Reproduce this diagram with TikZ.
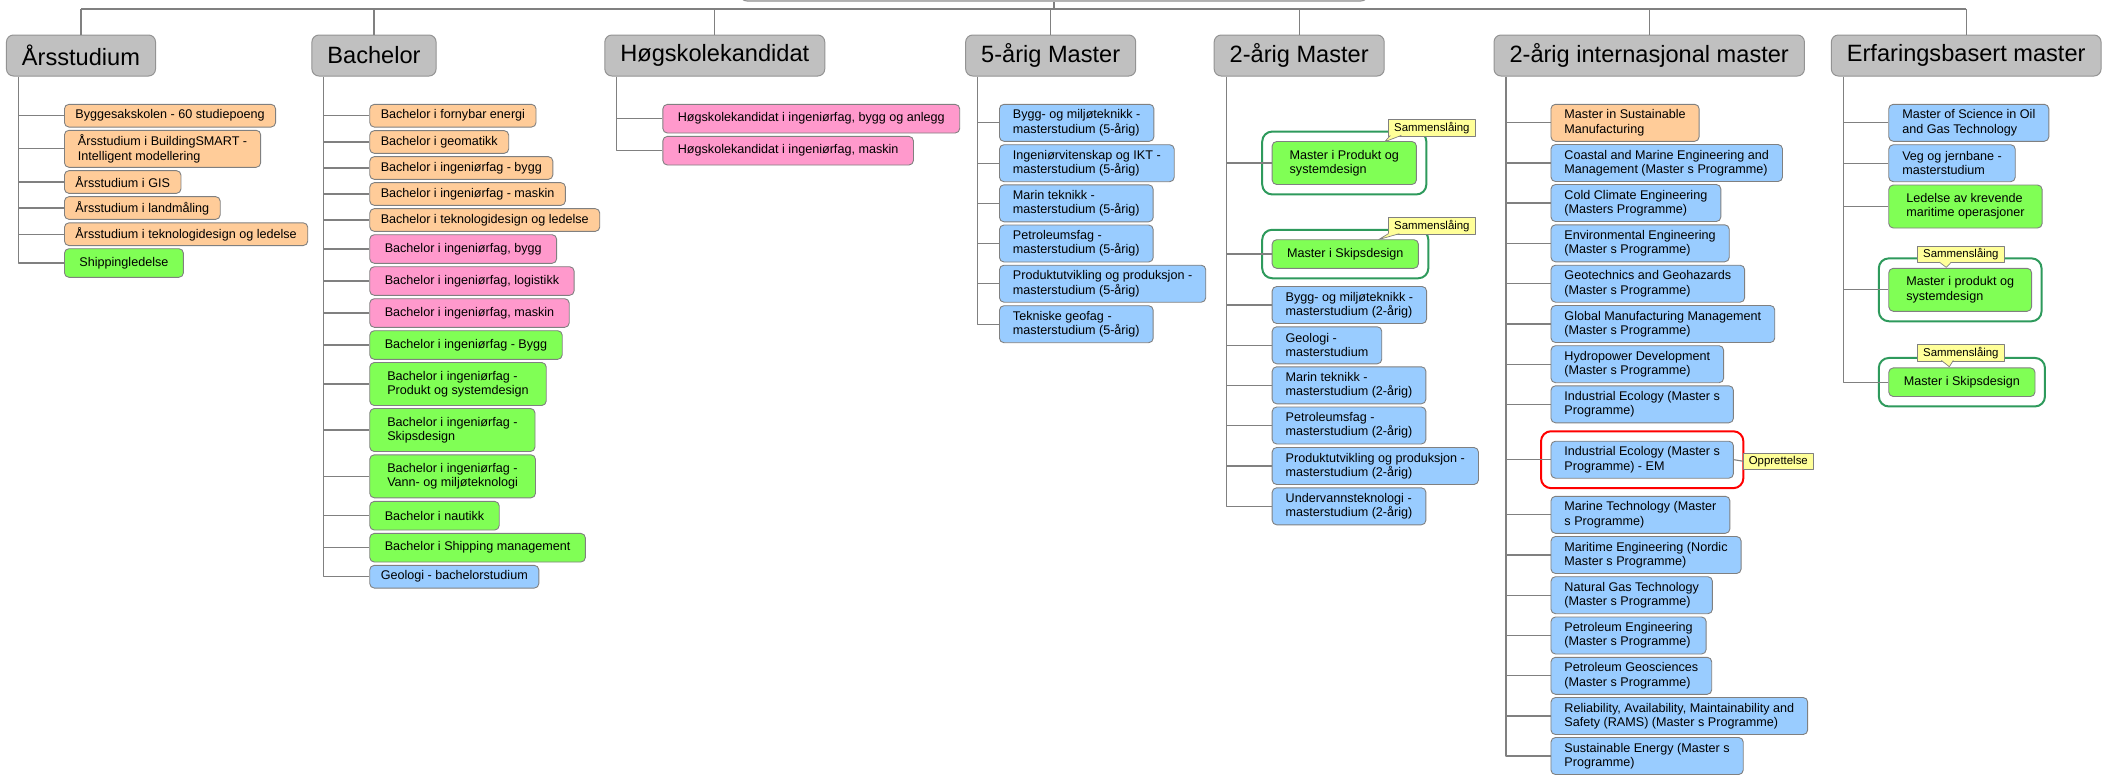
\documentclass[tikz,border=0pt]{standalone}
\usepackage{fontspec}
\setmainfont{Liberation Sans}
\usetikzlibrary{fit}
\definecolor{hdrgray}{RGB}{192,192,192}
\definecolor{edgegray}{RGB}{128,128,128}
\definecolor{progorange}{RGB}{255,204,153}
\definecolor{progblue}{RGB}{153,204,255}
\definecolor{progpink}{RGB}{255,153,204}
\definecolor{proggreen}{RGB}{128,255,85}
\definecolor{ringgreen}{RGB}{46,154,92}
\definecolor{noteyellow}{RGB}{255,255,153}
\tikzset{
  hdr/.style={draw=edgegray!85, fill=hdrgray, rounded corners=7pt, line width=1pt, minimum height=41pt, inner xsep=15.5pt, font=\fontsize{23.6}{28}\selectfont},
  prog/.style={draw=edgegray, rounded corners=4.5pt, line width=0.9pt, anchor=west, align=left, inner xsep=11pt, inner ysep=1pt, minimum height=22.7pt, font=\fontsize{12.6}{14.3}\selectfont},
  orbox/.style={prog, fill=progorange},
  blbox/.style={prog, fill=progblue},
  pkbox/.style={prog, fill=progpink, inner xsep=15pt, minimum height=28.6pt},
  grbox/.style={prog, fill=proggreen, inner xsep=15pt, minimum height=28.6pt},
  twoline/.style={inner xsep=13.5pt, minimum height=37pt},
  grtwo/.style={grbox, inner xsep=17.5pt, minimum height=43pt},
  conn/.style={draw=edgegray, line width=1.1pt},
  mergering/.style={draw=ringgreen, line width=2pt, rounded corners=10pt, inner sep=9.5pt},
  newring/.style={draw=red, line width=2pt, rounded corners=10pt, inner sep=9.5pt},
  notebox/.style={draw=edgegray, fill=noteyellow, line width=0.7pt, anchor=north west, inner xsep=5.5pt, inner ysep=1pt, minimum height=16.5pt, font=\fontsize{11.4}{13}\selectfont},
  notetip/.style={draw=edgegray, fill=noteyellow, line width=0.7pt},
}
\begin{document}
\begin{tikzpicture}[x=1pt, y=-1pt, line join=round]
\useasboundingbox (0,0) rectangle (2109,774);
\clip (0,0) rectangle (2109,774);
\node[hdr, anchor=south, minimum width=628pt] (root) at (1054,1.5) {};
\node[hdr] (ars) at (81,55.5) {Årsstudium};
\node[hdr] (bach) at (374,55.5) {Bachelor};
\node[hdr] (hsk) at (714.8,55.5) {Høgskolekandidat};
\node[hdr] (m5) at (1050.7,55.5) {5-årig Master};
\node[hdr] (m2) at (1299.2,55.5) {2-årig Master};
\node[hdr] (mint) at (1649.2,55.5) {2-årig internasjonal master};
\node[hdr] (erf) at (1966.2,55.5) {Erfaringsbasert master};
\coordinate (top) at ([yshift=-7.5pt]root.south);
\draw[conn] (root.south) -- (top) (top -| ars.north) -- (top -| erf.north)
  foreach \h in {ars,bach,hsk,m5,m2,mint,erf} {(top -| \h.north) -- (\h.north)};
\foreach \h in {ars,bach,hsk,m5,m2,mint,erf}
  \coordinate (\h-t) at ([xshift=12.5pt]\h.south west);

\node[orbox] (a1) at (64,115.7) {Byggesakskolen - 60 studiepoeng};
\node[orbox, twoline] (a2) at (64,148.8) {Årsstudium i BuildingSMART -\\Intelligent modellering};
\node[orbox] (a3) at (64,182) {Årsstudium i GIS};
\node[orbox] (a4) at (64,208) {Årsstudium i landmåling};
\node[orbox] (a5) at (64,234.2) {Årsstudium i teknologidesign og ledelse};
\node[grbox] (a6) at (64,263) {Shippingledelse};
\draw[conn] (ars-t) |- (a6.west)
  foreach \c in {a1,a2,a3,a4,a5} {(ars-t |- \c.west) -- (\c.west)};

\node[orbox] (b1) at (369.3,115.7) {Bachelor i fornybar energi};
\node[orbox] (b2) at (369.3,142) {Bachelor i geomatikk};
\node[orbox] (b3) at (369.3,168) {Bachelor i ingeniørfag - bygg};
\node[orbox] (b4) at (369.3,194) {Bachelor i ingeniørfag - maskin};
\node[orbox] (b5) at (369.3,220) {Bachelor i teknologidesign og ledelse};
\node[pkbox] (b6) at (369.3,249) {Bachelor i ingeniørfag, bygg};
\node[pkbox] (b7) at (369.3,281) {Bachelor i ingeniørfag, logistikk};
\node[pkbox] (b8) at (369.3,313) {Bachelor i ingeniørfag, maskin};
\node[grbox] (b9) at (369.3,345) {Bachelor i ingeniørfag - Bygg};
\node[grtwo] (b10) at (369.3,384) {Bachelor i ingeniørfag -\\Produkt og systemdesign};
\node[grtwo] (b11) at (369.3,430) {Bachelor i ingeniørfag -\\Skipsdesign};
\node[grtwo] (b12) at (369.3,476.3) {Bachelor i ingeniørfag -\\Vann- og miljøteknologi};
\node[grbox] (b13) at (369.3,515.7) {Bachelor i nautikk};
\node[grbox] (b14) at (369.3,547.7) {Bachelor i Shipping management};
\node[blbox] (b15) at (369.3,576.7) {Geologi - bachelorstudium};
\draw[conn] (bach-t) |- (b15.west)
  foreach \c in {b1,b2,b3,b4,b5,b6,b7,b8,b9,b10,b11,b12,b13,b14} {(bach-t |- \c.west) -- (\c.west)};

\node[pkbox] (h1) at (662.4,118.7) {Høgskolekandidat i ingeniørfag, bygg og anlegg};
\node[pkbox] (h2) at (662.4,150.7) {Høgskolekandidat i ingeniørfag, maskin};
\draw[conn] (hsk-t) |- (h2.west) (hsk-t |- h1.west) -- (h1.west);

\node[blbox, twoline] (f1) at (999,122.8) {Bygg- og miljøteknikk -\\masterstudium (5-årig)};
\node[blbox, twoline] (f2) at (999,163.2) {Ingeniørvitenskap og IKT -\\masterstudium (5-årig)};
\node[blbox, twoline] (f3) at (999,203.3) {Marin teknikk -\\masterstudium (5-årig)};
\node[blbox, twoline] (f4) at (999,243.5) {Petroleumsfag -\\masterstudium (5-årig)};
\node[blbox, twoline] (f5) at (999,283.7) {Produktutvikling og produksjon -\\masterstudium (5-årig)};
\node[blbox, twoline] (f6) at (999,324.2) {Tekniske geofag -\\masterstudium (5-årig)};
\draw[conn] (m5-t) |- (f6.west)
  foreach \c in {f1,f2,f3,f4,f5} {(m5-t |- \c.west) -- (\c.west)};

\node[grtwo] (t1) at (1271.7,163) {Master i Produkt og\\systemdesign};
\node[grbox] (t2) at (1271.7,254) {Master i Skipsdesign};
\node[blbox, twoline] (t3) at (1271.7,305) {Bygg- og miljøteknikk -\\masterstudium (2-årig)};
\node[blbox, twoline] (t4) at (1271.7,345.3) {Geologi -\\masterstudium};
\node[blbox, twoline] (t5) at (1271.7,385.3) {Marin teknikk -\\masterstudium (2-årig)};
\node[blbox, twoline] (t6) at (1271.7,425.5) {Petroleumsfag -\\masterstudium (2-årig)};
\node[blbox, twoline] (t7) at (1271.7,466) {Produktutvikling og produksjon -\\masterstudium (2-årig)};
\node[blbox, twoline] (t8) at (1271.7,506.3) {Undervannsteknologi -\\masterstudium (2-årig)};
\node[mergering, fit=(t1)] (t1r) {};
\node[mergering, fit=(t2)] (t2r) {};
\draw[conn] (m2-t) |- (t8.west)
  foreach \c in {t1,t2,t3,t4,t5,t6,t7} {(m2-t |- \c.west) -- (\c.west)};
\node[notebox] (n1) at (1388.3,119) {Sammenslåing};
\filldraw[notetip] ([xshift=2pt,yshift=0.8pt]n1.south west) -- ([xshift=-3.5pt,yshift=-5.5pt]n1.south west) -- ([xshift=13pt,yshift=0.8pt]n1.south west);
\node[notebox] (n2) at (1388.3,217.3) {Sammenslåing};
\filldraw[notetip] ([xshift=0pt,yshift=0.8pt]n2.south west) -- ([xshift=-9.5pt,yshift=-5pt]n2.south west) -- ([xshift=11pt,yshift=0.8pt]n2.south west);

\node[orbox, twoline] (i1) at (1550.5,122.8) {Master in Sustainable\\Manufacturing};
\node[blbox, twoline] (i2) at (1550.5,163) {Coastal and Marine Engineering and\\Management (Master s Programme)};
\node[blbox, twoline] (i3) at (1550.5,203) {Cold Climate Engineering\\(Masters Programme)};
\node[blbox, twoline] (i4) at (1550.5,243.3) {Environmental Engineering\\(Master s Programme)};
\node[blbox, twoline] (i5) at (1550.5,283.7) {Geotechnics and Geohazards\\(Master s Programme)};
\node[blbox, twoline] (i6) at (1550.5,324) {Global Manufacturing Management\\(Master s Programme)};
\node[blbox, twoline] (i7) at (1550.5,364.2) {Hydropower Development\\(Master s Programme)};
\node[blbox, twoline] (i8) at (1550.5,404.3) {Industrial Ecology (Master s\\Programme)};
\node[blbox, twoline] (i9) at (1550.5,459.7) {Industrial Ecology (Master s\\Programme) - EM};
\node[blbox, twoline] (i10) at (1550.5,514.8) {Marine Technology (Master\\s Programme)};
\node[blbox, twoline] (i11) at (1550.5,555) {Maritime Engineering (Nordic\\Master s Programme)};
\node[blbox, twoline] (i12) at (1550.5,595.2) {Natural Gas Technology\\(Master s Programme)};
\node[blbox, twoline] (i13) at (1550.5,635.5) {Petroleum Engineering\\(Master s Programme)};
\node[blbox, twoline] (i14) at (1550.5,675.8) {Petroleum Geosciences\\(Master s Programme)};
\node[blbox, twoline] (i15) at (1550.5,716) {Reliability, Availability, Maintainability and\\Safety (RAMS) (Master s Programme)};
\node[blbox, twoline] (i16) at (1550.5,756) {Sustainable Energy (Master s\\Programme)};
\node[newring, fit=(i9)] (i9r) {};
\draw[conn] (mint-t) |- (i16.west)
  foreach \c in {i1,i2,i3,i4,i5,i6,i7,i8,i9,i10,i11,i12,i13,i14,i15} {(mint-t |- \c.west) -- (\c.west)};
\node[notebox, anchor=west] (n3) at (1743,461.2) {Opprettelse};
\draw[conn] (i9.east) -- (n3.west);

\node[blbox, twoline] (e1) at (1888.3,122.8) {Master of Science in Oil\\and Gas Technology};
\node[blbox, twoline] (e2) at (1888.3,163.2) {Veg og jernbane -\\masterstudium};
\node[grtwo] (e3) at (1888.3,206.5) {Ledelse av krevende\\maritime operasjoner};
\node[grtwo] (e4) at (1888.3,289.8) {Master i produkt og\\systemdesign};
\node[grbox] (e5) at (1888.3,382.2) {Master i Skipsdesign};
\node[mergering, fit=(e4)] (e4r) {};
\node[mergering, fit=(e5)] (e5r) {};
\draw[conn] (erf-t) |- (e5.west)
  foreach \c in {e1,e2,e3,e4} {(erf-t |- \c.west) -- (\c.west)};
\node[notebox] (n4) at (1917.3,245.7) {Sammenslåing};
\filldraw[notetip] ([xshift=22pt,yshift=0.8pt]n4.south west) -- ([xshift=29pt,yshift=-4.5pt]n4.south west) -- ([xshift=34pt,yshift=0.8pt]n4.south west);
\node[notebox] (n5) at (1917.3,344) {Sammenslåing};
\filldraw[notetip] ([xshift=24pt,yshift=0.8pt]n5.south west) -- ([xshift=32pt,yshift=-5.5pt]n5.south west) -- ([xshift=36pt,yshift=0.8pt]n5.south west);
\end{tikzpicture}
\end{document}
